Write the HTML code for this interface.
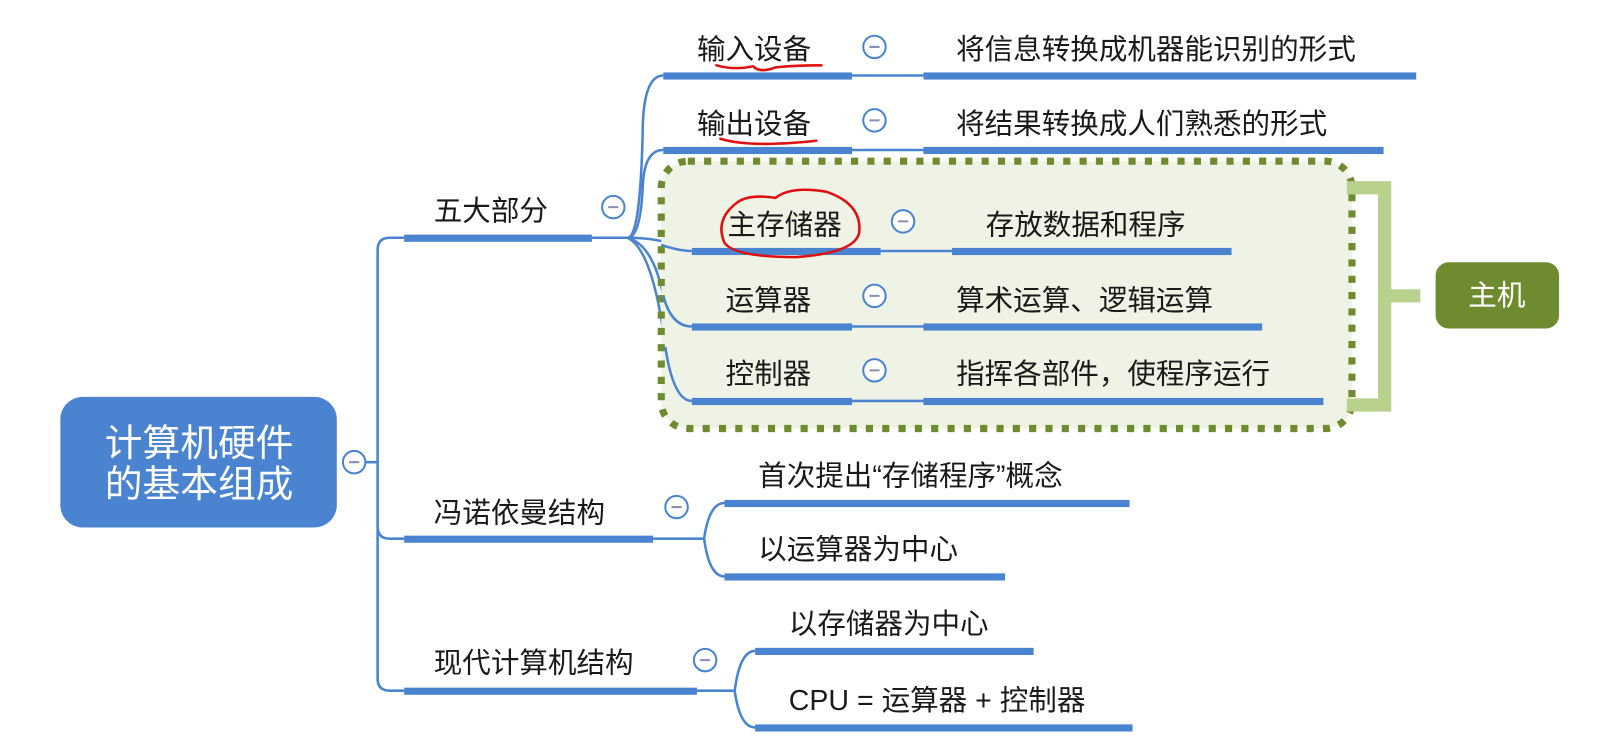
<!DOCTYPE html>
<html><head><meta charset="utf-8"><style>
html,body{margin:0;padding:0;background:#fff;}
svg{display:block;}
text{font-family:"Liberation Sans","Noto Sans CJK SC",sans-serif;fill:#1a1a1a;font-size:28px;}
</style></head><body>
<svg width="1600" height="756" viewBox="0 0 1568 741" xmlns="http://www.w3.org/2000/svg">
<g fill="none" stroke="#4a84d0" stroke-width="2.5">
 <path d="M358 453 H370"/>
 <path d="M396 233 H382 Q370 233 370 245 V665 Q370 677 382 677 H396"/>
 <path d="M370 516 Q370 528 382 528 H396"/>
 <path d="M580 233 H615"/>
 <path d="M615 233 Q628 233 630 120 Q632 74 650 74"/>
 <path d="M615 233 Q628 233 630 180 Q632 147 650 147"/>
 <path d="M615 233 Q650 233 678 246"/>
 <path d="M615 233 Q640 240 650 290 Q658 320 678 320"/>
 <path d="M615 233 Q640 245 652 340 Q660 393 678 393"/>
 <path d="M835 74 H905"/><path d="M835 147 H905"/>
 <path d="M640 528 H690"/>
 <path d="M690 528 Q695 493 710 493"/>
 <path d="M690 528 Q695 565 710 565"/>
 <path d="M683 677 H720"/>
 <path d="M720 677 Q725 638 740 638"/>
 <path d="M720 677 Q725 713 740 713"/>
</g>
<rect x="648" y="158" width="677" height="262" rx="26" fill="#eff3e5" stroke="#6e8c2f" stroke-width="7" stroke-dasharray="7 9"/>
<g fill="none" stroke="#4a84d0" stroke-width="2.5">
 <path d="M648 240 Q665 246 678 246"/>
 <path d="M650 290 Q658 320 678 320"/>
 <path d="M652 340 Q660 393 678 393"/>
 <path d="M863 246 H933"/><path d="M835 320 H905"/><path d="M835 393 H905"/>
</g>
<g fill="#4a84d0">
 <rect x="396" y="230" width="184" height="7"/>
 <rect x="396" y="525" width="244" height="7"/>
 <rect x="396" y="674" width="287" height="7"/>
 <rect x="650" y="71" width="185" height="7"/><rect x="905" y="71" width="483" height="7"/>
 <rect x="650" y="144" width="185" height="7"/><rect x="905" y="144" width="451" height="7"/>
 <rect x="678" y="243" width="185" height="7"/><rect x="933" y="243" width="274" height="7"/>
 <rect x="678" y="317" width="157" height="7"/><rect x="905" y="317" width="332" height="7"/>
 <rect x="678" y="390" width="157" height="7"/><rect x="905" y="390" width="392" height="7"/>
 <rect x="710" y="490" width="397" height="7"/><rect x="710" y="562" width="275" height="7"/>
 <rect x="740" y="635" width="273" height="7"/><rect x="740" y="710" width="370" height="7"/>
</g>
<g fill="#fff" stroke="#4a84d0" stroke-width="2">
 <circle cx="347" cy="453" r="11"/><circle cx="601" cy="203" r="11"/>
 <circle cx="857" cy="46" r="11"/><circle cx="857" cy="118" r="11"/><circle cx="885" cy="217" r="11"/>
 <circle cx="857" cy="290" r="11"/><circle cx="857" cy="363" r="11"/>
 <circle cx="663" cy="497" r="11"/><circle cx="691" cy="647" r="11"/>
</g>
<g stroke="#8a8fb8" stroke-width="2">
 <path d="M342 453h10M596 203h10M852 46h10M852 118h10M880 217h10M852 290h10M852 363h10M658 497h10M686 647h10"/>
</g>
<rect x="59" y="389" width="271" height="128" rx="22" fill="#4a84d0"/>
<text x="195" y="447" text-anchor="middle" style="fill:#fff;font-size:37px">计算机硬件</text>
<text x="195" y="487" text-anchor="middle" style="fill:#fff;font-size:37px">的基本组成</text>
<text x="425" y="216">五大部分</text>
<text x="425" y="512">冯诺依曼结构</text>
<text x="425" y="659">现代计算机结构</text>
<text x="683" y="58">输入设备</text><text x="937" y="58">将信息转换成机器能识别的形式</text>
<text x="683" y="131">输出设备</text><text x="937" y="131">将结果转换成人们熟悉的形式</text>
<text x="713" y="230">主存储器</text><text x="966" y="230">存放数据和程序</text>
<text x="711" y="304">运算器</text><text x="937" y="304">算术运算、逻辑运算</text>
<text x="711" y="376">控制器</text><text x="937" y="376">指挥各部件，使程序运行</text>
<text x="743" y="476">首次提出“存储程序”概念</text>
<text x="743" y="548">以运算器为中心</text>
<text x="773" y="621">以存储器为中心</text>
<text x="773" y="696">CPU = 运算器 + 控制器</text>
<path d="M1320 184 H1357 V397 H1320 M1357 290 H1392" fill="none" stroke="#b8d28e" stroke-width="13"/>
<rect x="1407" y="257" width="121" height="65" rx="13" fill="#6e8c2f"/>
<text x="1467" y="299" text-anchor="middle" style="fill:#fff">主机</text>
<g fill="none" stroke="#e01010" stroke-width="2.5" stroke-linecap="round">
 <path d="M702 64 Q720 69 738 65 Q745 72 760 66 Q780 64 805 64"/>
 <path d="M706 136 Q735 145 800 138"/>
 <path d="M723 198 Q735 190 760 194 Q775 182 810 188 Q845 200 842 228 Q838 248 780 252 Q720 252 710 238 Q700 215 723 198Z"/>
</g>
</svg>
</body></html>
